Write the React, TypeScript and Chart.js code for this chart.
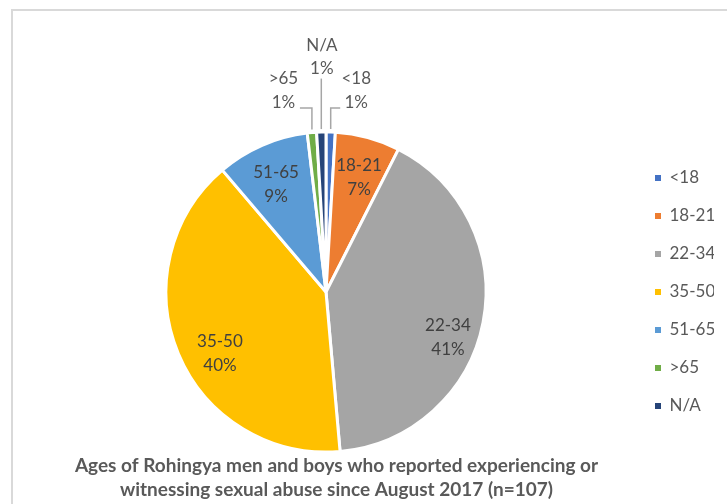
import React, { useEffect, useRef } from "react";
import { Chart, registerables } from "chart.js";

Chart.register(...registerables);

// ---- data ----
const categories = ["<18", "18-21", "22-34", "35-50", "51-65", ">65", "N/A"];
const counts = [1, 7, 44, 43, 10, 1, 1];
const sliceColors = ["#4472C4", "#ED7D31", "#A5A5A5", "#FFC000", "#5B9BD5", "#70AD47", "#264478"];
const titleLines = [
  "Ages of Rohingya men and boys who reported experiencing or",
  "witnessing sexual abuse since August 2017 (n=107)",
];

// ---- label placement (style only) ----
// inside labels: fraction along the arc's angular span, fraction of radius
const insidePlacement: Record<number, { f: number; r: number }> = {
  1: { f: 0.54, r: 0.745 },
  2: { f: 0.565, r: 0.814 },
  3: { f: 0.449, r: 0.766 },
  4: { f: 0.46, r: 0.741 },
};
// outside labels: offset of label centre from the arc's outer mid point
const outsidePlacement: Record<number, { dx: number; dy: number; side: "left" | "right" | "up" }> = {
  0: { dx: 25.5, dy: -41.5, side: "right" },
  5: { dx: -28.5, dy: -42, side: "left" },
  6: { dx: 0.5, dy: -75.5, side: "up" },
};

const FONT = "Lato, 'Open Sans', sans-serif";
const TEXT_DARK = "#404040";
const TEXT_GRAY = "#595959";

const labelPlugin = {
  id: "sliceLabels",
  beforeDraw(chart: any) {
    const ctx = chart.ctx;
    ctx.save();
    ctx.strokeStyle = "#d9d9d9";
    ctx.lineWidth = 2;
    ctx.strokeRect(12, 10, 2000, 2000);
    ctx.restore();
  },
  afterDatasetsDraw(chart: any) {
    const ctx = chart.ctx;
    const meta = chart.getDatasetMeta(0);
    const total = counts.reduce((a, b) => a + b, 0);
    ctx.save();
    ctx.font = `17px ${FONT}`;
    ctx.textAlign = "center";
    ctx.textBaseline = "middle";
    const lh = 24.5;
    meta.data.forEach((arc: any, i: number) => {
      const { x, y, startAngle, endAngle, outerRadius } = arc.getProps(
        ["x", "y", "startAngle", "endAngle", "outerRadius"],
        true
      );
      const pct = Math.round((counts[i] / total) * 100) + "%";
      const name = categories[i];
      if (insidePlacement[i]) {
        const p = insidePlacement[i];
        const a = startAngle + (endAngle - startAngle) * p.f;
        const cx = x + Math.cos(a) * outerRadius * p.r;
        const cy = y + Math.sin(a) * outerRadius * p.r;
        ctx.fillStyle = TEXT_DARK;
        ctx.fillText(name, cx, cy - lh / 2);
        ctx.fillText(pct, cx, cy + lh / 2);
      } else if (outsidePlacement[i]) {
        const p = outsidePlacement[i];
        const a = (startAngle + endAngle) / 2;
        const px = x + Math.cos(a) * outerRadius;
        const py = y + Math.sin(a) * outerRadius;
        const cx = px + p.dx;
        const cy = py + p.dy;
        ctx.strokeStyle = "#a6a6a6";
        ctx.lineWidth = 1.5;
        ctx.beginPath();
        ctx.moveTo(px, py - 3);
        if (p.side === "up") {
          ctx.lineTo(px, cy + 22);
        } else {
          const ey = cy + 17.5;
          ctx.lineTo(px, ey);
          ctx.lineTo(p.side === "left" ? cx + 16.5 : cx - 16, ey);
        }
        ctx.stroke();
        ctx.fillStyle = TEXT_GRAY;
        const half = p.side === "up" ? 11.5 : lh / 2;
        ctx.fillText(name, cx, cy - half);
        ctx.fillText(pct, cx, cy + half);
      }
    });
    ctx.restore();
  },
  afterDraw(chart: any) {
    const ctx = chart.ctx;
    ctx.save();
    ctx.font = `bold 19px ${FONT}`;
    ctx.fillStyle = TEXT_GRAY;
    ctx.textAlign = "center";
    ctx.textBaseline = "middle";
    ctx.fillText(titleLines[0], 336.5, 466);
    ctx.fillText(titleLines[1], 336.5, 490);
    ctx.restore();
  },
};

export default function App() {
  const ref = useRef<HTMLCanvasElement | null>(null);
  useEffect(() => {
    if (!ref.current) return;
    const chart = new Chart(ref.current, {
      type: "pie",
      data: {
        labels: categories,
        datasets: [
          {
            data: counts,
            backgroundColor: sliceColors,
            borderColor: "#ffffff",
            borderWidth: 3,
          },
        ],
      },
      options: {
        responsive: false,
        animation: false,
        events: [],
        radius: 160,
        layout: { padding: { top: 132, bottom: 52, left: 18, right: 13 } },
        plugins: {
          tooltip: { enabled: false },
          title: { display: false },
          legend: {
            display: true,
            position: "right",
            maxWidth: 80,
            labels: {
              boxWidth: 6,
              boxHeight: 6,
              padding: 21,
              color: TEXT_GRAY,
              font: { family: FONT, size: 17 },
              generateLabels: (c: any) => {
                const ds = c.data.datasets[0];
                return (c.data.labels as string[]).map((t: string, i: number) => ({
                  text: t,
                  fillStyle: ds.backgroundColor[i],
                  strokeStyle: ds.backgroundColor[i],
                  lineWidth: 0,
                  hidden: false,
                  index: i,
                  fontColor: TEXT_GRAY,
                }));
              },
            },
          },
        },
      } as any,
      plugins: [labelPlugin],
    });
    return () => chart.destroy();
  }, []);
  return (
    <div style={{ position: "fixed", left: 0, top: 0, width: 727, height: 504, background: "#fff" }}>
      <canvas ref={ref} width={727} height={504} style={{ display: "block" }} />
    </div>
  );
}
